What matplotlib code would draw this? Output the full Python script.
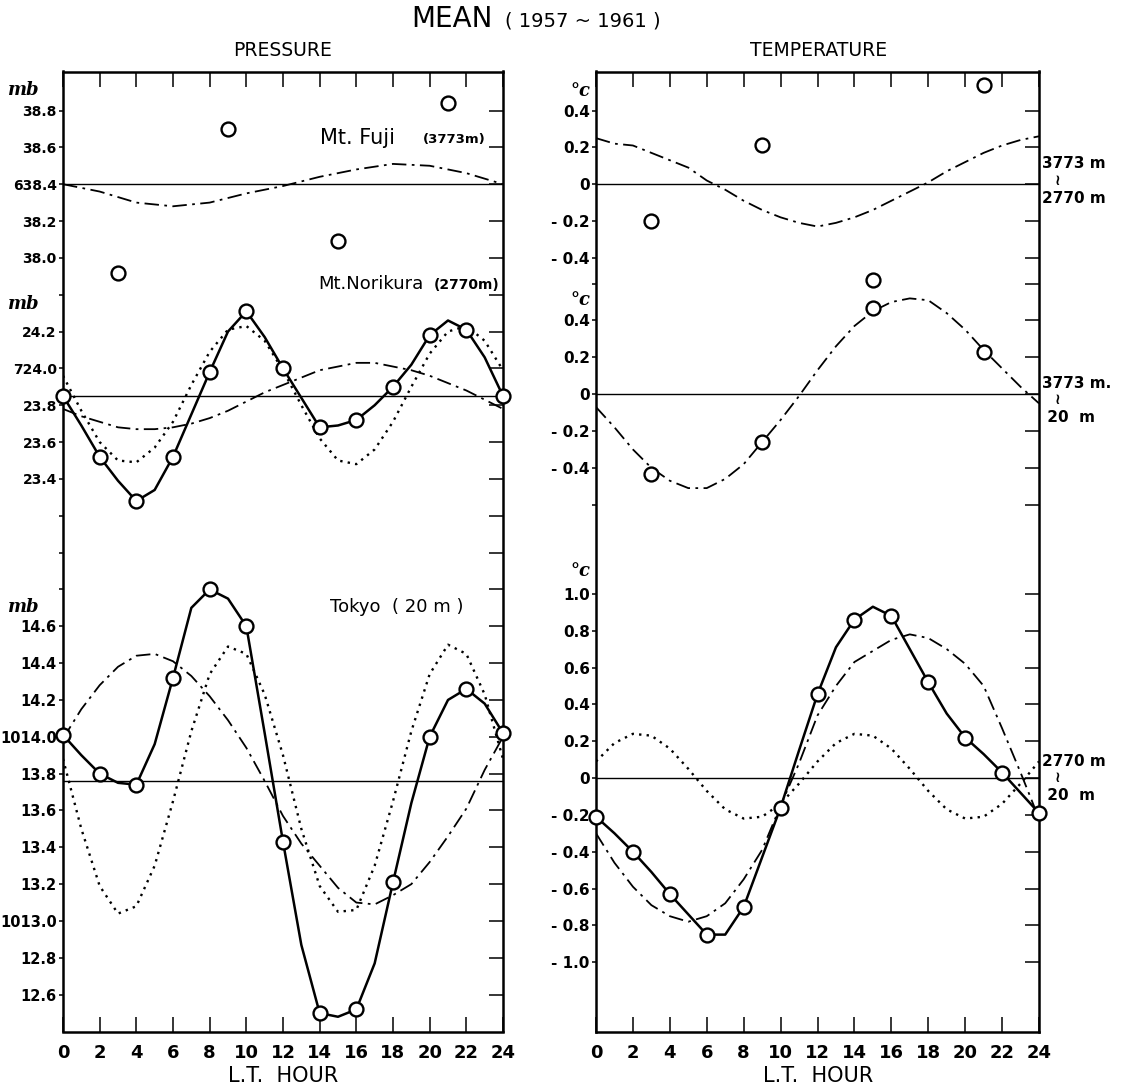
import matplotlib.pyplot as plt
import numpy as np

# ---------------- data ----------------
hours = np.arange(0, 25)            # curves, read hour by hour
even_hours = np.arange(0, 25, 2)    # 2-hourly observations
mount_hours = [3, 9, 15, 21]        # mountain observation hours
hour_ticks = np.arange(0, 25, 2)

# PRESSURE  -- Mt. Fuji (3773 m), mb
fuji_mean = 638.40
fuji_obs = [637.92, 638.70, 638.09, 638.84]
fuji_24h = [638.40, 638.36, 638.30, 638.28, 638.30, 638.35, 638.39,
            638.44, 638.48, 638.51, 638.50, 638.46, 638.40]   # even hours

# PRESSURE  -- Mt. Norikura (2770 m), mb
nori_mean = 723.85
nori_obs = [723.85, 723.52, 723.28, 723.52, 723.98, 724.31, 724.00,
            723.68, 723.72, 723.90, 724.18, 724.21, 723.85]
nori_curve = [723.85, 723.69, 723.52, 723.39, 723.28, 723.34, 723.52, 723.75,
              723.98, 724.20, 724.31, 724.17, 724.00, 723.84, 723.68, 723.69,
              723.72, 723.80, 723.90, 724.02, 724.18, 724.26, 724.21, 724.06,
              723.85]
nori_12h = [723.96, 723.77, 723.60, 723.50, 723.49, 723.57, 723.71, 723.91,
            724.09, 724.21, 724.23, 724.15, 723.99, 723.80, 723.62, 723.50,
            723.48, 723.56, 723.71, 723.90, 724.08, 724.20, 724.23, 724.15,
            723.99]
nori_24h = [723.78, 723.74, 723.71, 723.68, 723.67, 723.67, 723.68, 723.70,
            723.73, 723.77, 723.82, 723.87, 723.91, 723.95, 723.99, 724.01,
            724.03, 724.03, 724.01, 723.99, 723.96, 723.92, 723.88, 723.83,
            723.78]

# PRESSURE  -- Tokyo (20 m), mb
tokyo_mean = 1013.76
tokyo_obs = [1014.01, 1013.80, 1013.74, 1014.32, 1014.80, 1014.60, 1013.43,
             1012.50, 1012.52, 1013.21, 1014.00, 1014.26, 1014.02]
tokyo_curve = [1014.01, 1013.90, 1013.80, 1013.75, 1013.74, 1013.96, 1014.32,
               1014.70, 1014.80, 1014.75, 1014.60, 1014.02, 1013.43, 1012.87,
               1012.50, 1012.48, 1012.52, 1012.77, 1013.21, 1013.64, 1014.00,
               1014.20, 1014.26, 1014.18, 1014.02]
tokyo_12h = [1013.88, 1013.50, 1013.19, 1013.04, 1013.08, 1013.30, 1013.65,
             1014.03, 1014.34, 1014.49, 1014.45, 1014.23, 1013.90, 1013.50,
             1013.19, 1013.05, 1013.06, 1013.30, 1013.65, 1014.03, 1014.34,
             1014.50, 1014.45, 1014.23, 1013.88]
tokyo_24h = [1013.99, 1014.15, 1014.28, 1014.38, 1014.44, 1014.45, 1014.41,
             1014.33, 1014.22, 1014.09, 1013.94, 1013.76, 1013.57, 1013.42,
             1013.30, 1013.18, 1013.10, 1013.09, 1013.14, 1013.20, 1013.32,
             1013.46, 1013.61, 1013.82, 1014.00]

# TEMPERATURE differences, deg C
t_3773_2770_obs = [-0.20, 0.21, -0.52, 0.54]
t_3773_2770_24h = [0.25, 0.22, 0.21, 0.17, 0.13, 0.09, 0.02, -0.03, -0.09,
                   -0.14, -0.18, -0.21, -0.23, -0.21, -0.18, -0.14, -0.09,
                   -0.04, 0.01, 0.07, 0.12, 0.17, 0.21, 0.24, 0.26]

t_3773_20_obs = [-0.435, -0.26, 0.47, 0.23]
t_3773_20_24h = [-0.07, -0.18, -0.30, -0.40, -0.47, -0.51, -0.51, -0.46,
                 -0.38, -0.26, -0.14, -0.01, 0.13, 0.26, 0.37, 0.45, 0.50,
                 0.52, 0.51, 0.44, 0.35, 0.24, 0.14, 0.04, -0.05]

t_2770_20_obs = [-0.21, -0.40, -0.63, -0.85, -0.70, -0.16, 0.455, 0.86, 0.88,
                 0.52, 0.22, 0.03, -0.19]
t_2770_20_curve = [-0.21, -0.30, -0.40, -0.51, -0.63, -0.74, -0.85, -0.85,
                   -0.70, -0.43, -0.16, 0.15, 0.455, 0.71, 0.86, 0.93, 0.88,
                   0.70, 0.52, 0.35, 0.22, 0.13, 0.03, -0.08, -0.19]
t_2770_20_12h = [0.09, 0.19, 0.24, 0.23, 0.16, 0.05, -0.07, -0.17, -0.22,
                 -0.21, -0.14, -0.03, 0.09, 0.19, 0.24, 0.23, 0.16, 0.05,
                 -0.07, -0.17, -0.22, -0.21, -0.14, -0.03, 0.09]
t_2770_20_24h = [-0.30, -0.46, -0.59, -0.69, -0.75, -0.78, -0.75, -0.68,
                 -0.55, -0.39, -0.15, 0.08, 0.34, 0.50, 0.63, 0.69, 0.75,
                 0.78, 0.76, 0.70, 0.62, 0.50, 0.27, 0.03, -0.22]

# axis labels per section
fuji_ticks = [638.0, 638.2, 638.4, 638.6, 638.8]
fuji_labels = ['38.0', '38.2', '638.4', '38.6', '38.8']
nori_ticks = [723.2, 723.4, 723.6, 723.8, 724.0, 724.2, 724.4]
nori_labels = ['', '23.4', '23.6', '23.8', '724.0', '24.2', '']
tokyo_ticks = [1012.6, 1012.8, 1013.0, 1013.2, 1013.4, 1013.6, 1013.8,
               1014.0, 1014.2, 1014.4, 1014.6, 1014.8, 1015.0]
tokyo_labels = ['12.6', '12.8', '1013.0', '13.2', '13.4', '13.6', '13.8',
                '1014.0', '14.2', '14.4', '14.6', '', '']
t_top_ticks = [-0.4, -0.2, 0.0, 0.2, 0.4]
t_top_labels = ['- 0.4', '- 0.2', '0', '0.2', '0.4']
t_mid_ticks = [-0.6, -0.4, -0.2, 0.0, 0.2, 0.4, 0.6]
t_mid_labels = ['', '- 0.4', '- 0.2', '0', '0.2', '0.4', '']
t_bot_ticks = [-1.0, -0.8, -0.6, -0.4, -0.2, 0.0, 0.2, 0.4, 0.6, 0.8, 1.0]
t_bot_labels = ['- 1.0', '- 0.8', '- 0.6', '- 0.4', '- 0.2', '0', '0.2',
                '0.4', '0.6', '0.8', '1.0']

# ---------------- layout ----------------
W, H = 1128, 1089
plt.rcParams['font.family'] = ['DejaVu Sans']
fig = plt.figure(figsize=(W / 100, H / 100), dpi=100)

TOP, BOT = 71.5, 1031.5
SPAN = (BOT - TOP) / 184.2     # data units visible in one section axes


def fx(px):
    return px / W


def fy(py):
    return 1 - py / H


def panel_rect(x0, x1):
    return [x0 / W, 1 - BOT / H, (x1 - x0) / W, (BOT - TOP) / H]


def section(rect, base, ticks, labels, size=10.5, frame=False):
    ax = fig.add_axes(rect)
    ax.set_facecolor('none')
    ax.set_xlim(0, 24)
    ax.set_ylim(base, base + SPAN)
    ax.yaxis.remove_overlapping_locs = False
    ax.set_yticks(ticks, labels, fontsize=size, fontweight='bold')
    ax.set_yticks(ticks, minor=True)
    ax.tick_params(axis='y', which='major', direction='out', length=3,
                   width=1.1, pad=1.5, left=True, right=False)
    ax.tick_params(axis='y', which='minor', direction='in', length=10,
                   width=1.1, left=False, right=True)
    if frame:
        for s in ax.spines.values():
            s.set_linewidth(1.8)
        ax.set_xticks(hour_ticks, [str(h) for h in hour_ticks],
                      fontsize=13, fontweight='bold')
        ax.tick_params(axis='x', direction='in', length=11, width=1.1,
                       top=True, pad=9)
    else:
        for s in ax.spines.values():
            s.set_visible(False)
        ax.set_xticks([])
    return ax


DOT = (0, (1, 2.2))
DASHDOT = (0, (8, 3, 1.5, 3))


def draw(ax, mean, x_obs=None, obs=None, curve=None, semi=None, diur=None,
         x_diur=hours):
    ax.axhline(mean, color='k', lw=1.0)
    if diur is not None:
        ax.plot(x_diur, diur, color='k', lw=1.3, ls=DASHDOT)
    if semi is not None:
        ax.plot(hours, semi, color='k', lw=1.7, ls=DOT)
    if curve is not None:
        ax.plot(hours, curve, color='k', lw=1.8)
    if obs is not None:
        ax.plot(x_obs, obs, 'o', ms=10, mfc='white', mec='k', mew=1.7,
                clip_on=False, zorder=5)


# ---- left panel : pressure ----
left = panel_rect(63, 503)
ax_tokyo = section(left, 1012.4, tokyo_ticks, tokyo_labels, size=10.5,
                   frame=True)
ax_nori = section(left, 720.4, nori_ticks, nori_labels, size=10)
ax_fuji = section(left, 633.8, fuji_ticks, fuji_labels, size=10)

draw(ax_tokyo, tokyo_mean, even_hours, tokyo_obs, tokyo_curve, tokyo_12h,
     tokyo_24h)
draw(ax_nori, nori_mean, even_hours, nori_obs, nori_curve, nori_12h, nori_24h)
draw(ax_fuji, fuji_mean, mount_hours, fuji_obs, diur=fuji_24h,
     x_diur=even_hours)

# ---- right panel : temperature ----
right = panel_rect(596, 1039)
ax_t3 = section(right, -1.376, t_bot_ticks, t_bot_labels, size=11,
                frame=True)
ax_t2 = section(right, -3.46, t_mid_ticks, t_mid_labels, size=11)
ax_t1 = section(right, -4.6, t_top_ticks, t_top_labels, size=11)

draw(ax_t3, 0.0, even_hours, t_2770_20_obs, t_2770_20_curve, t_2770_20_12h,
     t_2770_20_24h)
draw(ax_t2, 0.0, mount_hours, t_3773_20_obs, diur=t_3773_20_24h)
draw(ax_t1, 0.0, mount_hours, t_3773_2770_obs, diur=t_3773_2770_24h)

# ---- texts ----
fig.text(fx(493), fy(19), 'MEAN', fontsize=20, ha='right', va='center')
fig.text(fx(505), fy(21), '( 1957 ~ 1961 )', fontsize=14, ha='left',
         va='center')
fig.text(fx(283), fy(51), 'PRESSURE', fontsize=13.5, ha='center', va='center')
fig.text(fx(819), fy(51), 'TEMPERATURE', fontsize=13.5, ha='center',
         va='center')
for cx in (283, 818):
    fig.text(fx(cx), fy(1076), 'L.T.  HOUR', fontsize=15, ha='center',
             va='center')

unit_font = dict(family='DejaVu Serif', style='italic', fontweight='bold',
                 fontsize=13, va='center')
for py in (90, 304, 607):
    fig.text(fx(8), fy(py), 'mb', ha='left', **unit_font)
for py in (91, 300, 571):
    fig.text(fx(580), fy(py), '°c', ha='center', **unit_font)

fig.text(fx(320), fy(138), 'Mt. Fuji', fontsize=15, ha='left', va='center')
fig.text(fx(423), fy(140), '(3773m)', fontsize=9.5, fontweight='bold',
         ha='left', va='center')
fig.text(fx(318), fy(284), 'Mt.Norikura', fontsize=13, ha='left',
         va='center')
fig.text(fx(500), fy(285), '(2770m)', fontsize=10, fontweight='bold',
         ha='right', va='center')
fig.text(fx(330), fy(607), 'Tokyo  ( 20 m )', fontsize=13, ha='left',
         va='center')

side_font = dict(fontsize=11, fontweight='bold', va='center', ha='left')
for (py, top_txt, bot_txt) in [(181, '3773 m', '2770 m'),
                               (400, '3773 m.', ' 20  m'),
                               (778, '2770 m', ' 20  m')]:
    fig.text(fx(1042), fy(py - 17), top_txt, **side_font)
    fig.text(fx(1055), fy(py), '≀', **side_font)
    fig.text(fx(1042), fy(py + 17), bot_txt, **side_font)

fig.savefig('out.png', dpi=100, facecolor='white')
